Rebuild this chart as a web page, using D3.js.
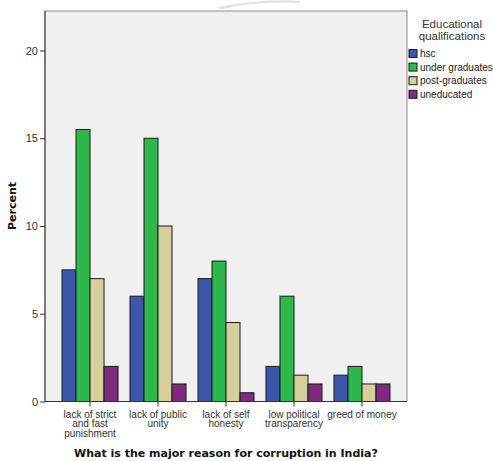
<!DOCTYPE html>
<html><head><meta charset="utf-8">
<script src="https://cdn.jsdelivr.net/npm/d3@7"></script>
<style>body{margin:0;background:#fff}svg{display:block}</style>
</head><body>
<svg id="c" width="493" height="461"></svg>
<script>
const categories = [
  ["lack of strict","and fast","punishment"],
  ["lack of public","unity"],
  ["lack of self","honesty"],
  ["low political","transparency"],
  ["greed of money"]
];
const seriesNames = ["hsc","under graduates","post-graduates","uneducated"];
const hscValues = [7.5, 6, 7, 2, 1.5];
const underGradValues = [15.5, 15, 8, 6, 2];
const postGradValues = [7, 10, 4.5, 1.5, 1];
const uneducatedValues = [2, 1, 0.5, 1, 1];
const yTicks = [0, 5, 10, 15, 20];
const colors = ["#3D56AA", "#2EB84B", "#D5D09B", "#7D2A7F"];

const series = [hscValues, underGradValues, postGradValues, uneducatedValues];
const catKeys = categories.map(c => c.join(" "));

const svg = d3.select("#c");
const L = 45, R = 407, T = 11, B = 401.5;

// faint arc at top
svg.append("path").attr("d","M215,8 Q260,-2 300,1 L300,3 Q260,1 222,9 Z").attr("fill","#e2e2e2");

svg.append("rect").attr("x",L).attr("y",T).attr("width",R-L).attr("height",B-T)
  .attr("fill","#F0F0F0").attr("stroke","#8a8a8a").attr("stroke-width",1);

const y = d3.scaleLinear().domain([0, 22.25]).range([B, T]);
const x0 = d3.scaleBand().domain(catKeys).range([L, R]).paddingInner(0.176).paddingOuter(0.25);
const x1 = d3.scaleBand().domain(seriesNames).range([0, x0.bandwidth()]);

const g = svg.append("g");
catKeys.forEach((k, ci) => {
  seriesNames.forEach((s, si) => {
    const v = series[si][ci];
    g.append("rect")
      .attr("x", x0(k) + x1(s))
      .attr("y", y(v))
      .attr("width", x1.bandwidth())
      .attr("height", B - y(v))
      .attr("fill", colors[si])
      .attr("stroke", "#1a1a1a").attr("stroke-width", 1);
  });
});

// y axis
const yAxis = svg.append("g").attr("transform",`translate(${L},0)`)
  .call(d3.axisLeft(y).tickValues(yTicks).tickSize(5).tickPadding(2));
yAxis.select(".domain").attr("stroke","#333").attr("d",`M0,${T}V${B}`);
yAxis.selectAll(".tick line").attr("stroke","#333");
yAxis.selectAll("text").attr("font-family","Liberation Sans, Arial, sans-serif").attr("font-size",11).attr("fill","#333");

// x axis
const xAxis = svg.append("g").attr("transform",`translate(0,${B})`)
  .call(d3.axisBottom(x0).tickSize(5).tickFormat(""));
xAxis.select(".domain").attr("stroke","#333").attr("d",`M${L},0H${R}`);
xAxis.selectAll(".tick line").attr("stroke","#333");
catKeys.forEach((k, ci) => {
  const t = svg.append("text").attr("x", x0(k) + x0.bandwidth()/2).attr("y", B + 16)
    .attr("text-anchor","middle").attr("font-family","Liberation Sans, Arial, sans-serif")
    .attr("font-size",10).attr("fill","#333");
  categories[ci].forEach((line, li) => {
    t.append("tspan").attr("x", x0(k) + x0.bandwidth()/2).attr("dy", li === 0 ? 0 : 9.5).text(line);
  });
});

// axis titles
svg.append("text").attr("x", 226).attr("y", 457).attr("text-anchor","middle")
  .attr("font-family","DejaVu Sans, Verdana, sans-serif").attr("font-weight","bold")
  .attr("font-size",11).attr("fill","#111")
  .text("What is the major reason for corruption in India?");
svg.append("text").attr("transform","translate(16,206) rotate(-90)").attr("text-anchor","middle")
  .attr("font-family","DejaVu Sans, Verdana, sans-serif").attr("font-weight","bold")
  .attr("font-size",11).attr("fill","#111").text("Percent");

// legend
const lt = svg.append("text").attr("x", 452).attr("y", 28).attr("text-anchor","middle")
  .attr("font-family","Liberation Sans, Arial, sans-serif").attr("font-size",11.5).attr("fill","#333");
lt.append("tspan").attr("x",452).text("Educational");
lt.append("tspan").attr("x",452).attr("dy",12).text("qualifications");
seriesNames.forEach((s, i) => {
  const yy = 49.5 + i * 13.6;
  svg.append("rect").attr("x", 409).attr("y", yy).attr("width", 8).attr("height", 8)
    .attr("fill", colors[i]).attr("stroke","#1a1a1a").attr("stroke-width",1);
  svg.append("text").attr("x", 420).attr("y", yy + 7.5)
    .attr("font-family","Liberation Sans, Arial, sans-serif").attr("font-size",10).attr("fill","#222").text(s);
});
</script>
</body></html>
